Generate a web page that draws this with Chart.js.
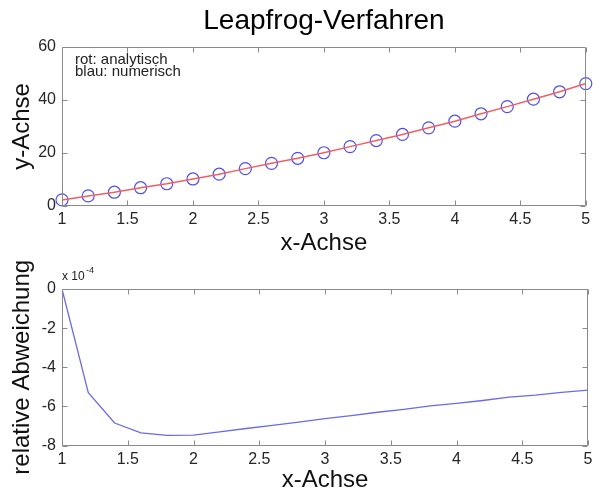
<!DOCTYPE html>
<html lang="de">
<head>
<meta charset="utf-8">
<title>Leapfrog-Verfahren</title>
<script src="https://cdn.jsdelivr.net/npm/chart.js@4.4.1/dist/chart.umd.min.js"></script>
<style>
  html, body { margin: 0; padding: 0; background: #fff; }
  #wrap { position: relative; width: 593px; height: 494px; overflow: hidden; }
  canvas { position: absolute; left: 0; }
  #oben { top: 0; }
  #unten { top: 250px; }
</style>
</head>
<body>
<div id="wrap">
  <canvas id="oben" width="593" height="262"></canvas>
  <canvas id="unten" width="593" height="245"></canvas>
</div>
<script>
// Stützstellen und Ergebnisse
const xWerte        = [1, 1.2, 1.4, 1.6, 1.8, 2, 2.2, 2.4, 2.6, 2.8, 3, 3.2, 3.4, 3.6, 3.8, 4, 4.2, 4.4, 4.6, 4.8, 5];
const yAnalytisch   = [2.3, 3.8, 5.2, 6.9, 8.4, 10.2, 12.0, 14.1, 16.1, 18.0, 20.1, 22.4, 24.7, 27.0, 29.5, 32.0, 34.8, 37.5, 40.3, 43.1, 46.2];
const yNumerisch    = [2.3, 3.8, 5.2, 6.9, 8.4, 10.2, 12.0, 14.1, 16.1, 18.0, 20.1, 22.4, 24.7, 27.0, 29.5, 32.0, 34.8, 37.5, 40.3, 43.1, 46.2];
// relative Abweichung in Einheiten von 1e-4
const relAbweichung = [0, -5.3, -6.85, -7.35, -7.48, -7.47, -7.3, -7.13, -6.97, -6.8, -6.63, -6.47, -6.3, -6.15, -5.97, -5.85, -5.7, -5.53, -5.42, -5.28, -5.17];

const xTicks      = [1, 1.5, 2, 2.5, 3, 3.5, 4, 4.5, 5];
const yTicksOben  = [0, 20, 40, 60];
const yTicksUnten = [-8, -6, -4, -2, 0];
const hinweis     = ["rot: analytisch", "blau: numerisch"];

const SCHRIFT = "'Liberation Sans', Arial, Helvetica, sans-serif";
Chart.defaults.font.family = SCHRIFT;

const punkte = (ys) => xWerte.map((x, i) => ({ x: x, y: ys[i] }));

// Rahmen mit nach innen zeigenden Teilstrichen auf allen vier Seiten
const rahmen = {
  id: "rahmen",
  afterDraw(chart) {
    const { ctx, chartArea: a, scales } = chart;
    const len = 5;
    ctx.save();
    ctx.strokeStyle = "#8a8a8a";
    ctx.lineWidth = 1;
    ctx.beginPath();
    const l = Math.round(a.left) + 0.5, r = Math.round(a.right) - 0.5;
    const t = Math.round(a.top) + 0.5, b = Math.round(a.bottom) - 0.5;
    ctx.rect(l, t, r - l, b - t);
    scales.x.ticks.forEach(tk => {
      const px = Math.round(scales.x.getPixelForValue(tk.value)) + 0.5;
      ctx.moveTo(px, b); ctx.lineTo(px, b - len);
      ctx.moveTo(px, t); ctx.lineTo(px, t + len);
    });
    scales.y.ticks.forEach(tk => {
      const py = Math.round(scales.y.getPixelForValue(tk.value)) + 0.5;
      ctx.moveTo(l, py); ctx.lineTo(l + len, py);
      ctx.moveTo(r, py); ctx.lineTo(r - len, py);
    });
    ctx.stroke();
    ctx.restore();
  }
};

function achsen(yTicks, yTitel, xHoehe, xTitelPad) {
  return {
    x: {
      type: "linear",
      min: xTicks[0],
      max: xTicks[xTicks.length - 1],
      afterBuildTicks: s => { s.ticks = xTicks.map(v => ({ value: v })); },
      afterFit: s => { s.height = xHoehe; s.paddingLeft = 0; s.paddingRight = 0; },
      grid: { display: false, drawTicks: false },
      border: { display: false },
      ticks: { color: "#262626", font: { size: 16 }, padding: 4, maxRotation: 0, callback: v => String(v) },
      title: { display: true, text: "x-Achse", color: "#111", font: { size: 24 }, padding: { top: 0, bottom: xTitelPad } }
    },
    y: {
      min: yTicks[0],
      max: yTicks[yTicks.length - 1],
      afterBuildTicks: s => { s.ticks = yTicks.map(v => ({ value: v })); },
      afterFit: s => { s.width = 62; },
      grid: { display: false, drawTicks: false },
      border: { display: false },
      ticks: { color: "#262626", font: { size: 16 }, padding: 6, callback: v => String(v) },
      title: { display: true, text: yTitel, color: "#111", font: { size: 24 }, padding: { top: 8, bottom: 0 } }
    }
  };
}

// oberes Diagramm: Lösung
const ueberschrift = {
  id: "ueberschrift",
  afterDraw(chart) {
    const { ctx, chartArea: a } = chart;
    ctx.save();
    ctx.fillStyle = "#000";
    ctx.font = "28px " + SCHRIFT;
    ctx.textAlign = "center";
    ctx.textBaseline = "middle";
    ctx.fillText("Leapfrog-Verfahren", (a.left + a.right) / 2, 21);
    ctx.font = "15px " + SCHRIFT;
    ctx.fillStyle = "#222";
    ctx.textAlign = "left";
    hinweis.forEach((txt, i) => ctx.fillText(txt, a.left + 13, a.top + 13 + i * 12));
    ctx.restore();
  }
};

new Chart(document.getElementById("oben"), {
  type: "line",
  data: {
    datasets: [
      {
        label: "analytisch",
        data: punkte(yAnalytisch),
        borderColor: "#f25f5f",
        borderWidth: 1.5,
        pointRadius: 0,
        tension: 0
      },
      {
        label: "numerisch",
        data: punkte(yNumerisch),
        showLine: false,
        pointStyle: "circle",
        pointRadius: 6,
        pointBorderWidth: 1.2,
        pointBorderColor: "#4f4ff0",
        pointBackgroundColor: "rgba(0,0,0,0)",
        clip: false
      }
    ]
  },
  options: {
    responsive: false,
    animation: false,
    layout: { padding: { top: 47, right: 5, bottom: 0, left: 0 } },
    plugins: { legend: { display: false }, tooltip: { enabled: false } },
    scales: achsen(yTicksOben, "y-Achse", 56, 4)
  },
  plugins: [rahmen, ueberschrift]
});

// unteres Diagramm: relative Abweichung
const faktor = {
  id: "faktor",
  afterDraw(chart) {
    const { ctx, chartArea: a } = chart;
    ctx.save();
    ctx.fillStyle = "#222";
    ctx.textBaseline = "middle";
    ctx.font = "12px " + SCHRIFT;
    ctx.fillText("x 10", a.left, a.top - 12);
    ctx.font = "9px " + SCHRIFT;
    ctx.fillText("-4", a.left + 24, a.top - 18);
    ctx.restore();
  }
};

new Chart(document.getElementById("unten"), {
  type: "line",
  data: {
    datasets: [{
      label: "relative Abweichung",
      data: punkte(relAbweichung),
      borderColor: "#6a6aea",
      borderWidth: 1.3,
      pointRadius: 0,
      tension: 0
    }]
  },
  options: {
    responsive: false,
    animation: false,
    layout: { padding: { top: 39, right: 5, bottom: 0, left: 0 } },
    plugins: { legend: { display: false }, tooltip: { enabled: false } },
    scales: achsen(yTicksUnten, "relative Abweichung", 49.5, 0)
  },
  plugins: [rahmen, faktor]
});
</script>
</body>
</html>
